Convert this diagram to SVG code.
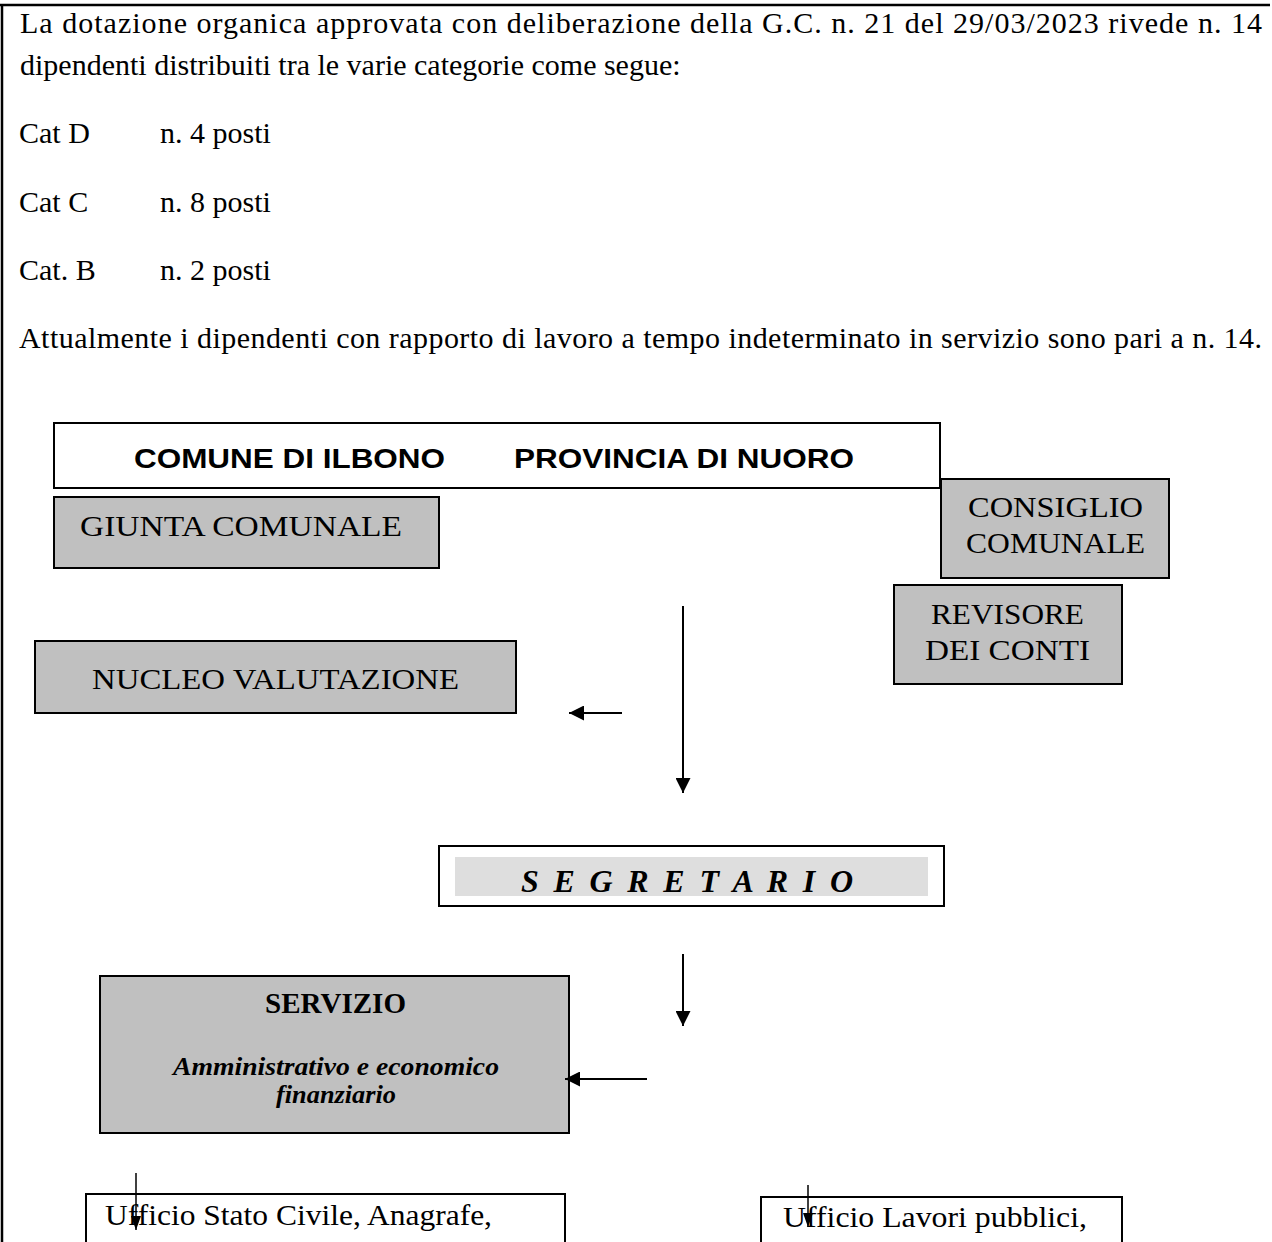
<svg xmlns="http://www.w3.org/2000/svg" width="1272" height="1242" viewBox="0 0 1272 1242">
<defs>
<style>
.t{font-family:"Liberation Serif",serif;font-size:30px;fill:#000}
.box{stroke:#000;stroke-width:2}
.gray{fill:#c0c0c0}
.white{fill:#fff}
.ln{stroke:#000;stroke-width:2;fill:none}
.sl{stroke:#000;stroke-width:1.5;fill:none}
.bi{font-family:"Liberation Serif",serif;font-weight:bold;font-style:italic;fill:#000}
</style>
<marker id="ahs" viewBox="0 0 10 10" refX="10" refY="5" markerWidth="15" markerHeight="15" markerUnits="userSpaceOnUse" orient="auto">
<path d="M0,0 L10,5 L0,10 z" fill="#000"/>
</marker>
<marker id="ah" viewBox="0 0 14 10" refX="14" refY="5" markerWidth="14" markerHeight="10" markerUnits="userSpaceOnUse" orient="auto">
<path d="M0,0 L14,5 L0,10 z" fill="#000"/>
</marker>
</defs>
<rect width="1272" height="1242" fill="#fff"/>
<g id="page-border">
<line x1="0" y1="5" x2="1270" y2="5" stroke="#000" stroke-width="2.5"/>
<line x1="2" y1="4" x2="2" y2="1242" stroke="#000" stroke-width="2.5"/>
</g>
<g id="intro">
<text class="t" x="20" y="33" textLength="1242" lengthAdjust="spacing">La dotazione organica approvata con deliberazione della G.C. n. 21 del 29/03/2023 rivede n. 14</text>
<text class="t" x="20" y="75">dipendenti distribuiti tra le varie categorie come segue:</text>
<text class="t" x="19" y="143">Cat D</text><text class="t" x="160" y="143">n. 4 posti</text>
<text class="t" x="19" y="212">Cat C</text><text class="t" x="160" y="212">n. 8 posti</text>
<text class="t" x="19" y="280">Cat. B</text><text class="t" x="160" y="280">n. 2 posti</text>
<text class="t" x="19" y="348" textLength="1243" lengthAdjust="spacing">Attualmente i dipendenti con rapporto di lavoro a tempo indeterminato in servizio sono pari a n. 14.</text>
</g>
<g id="header">
<rect class="box white" x="54" y="423" width="886" height="65"/>
<text y="468" style="font-family:'Liberation Sans',sans-serif;font-weight:bold;font-size:27px"><tspan x="134" textLength="311" lengthAdjust="spacingAndGlyphs">COMUNE DI ILBONO</tspan><tspan x="514" textLength="340" lengthAdjust="spacingAndGlyphs">PROVINCIA DI NUORO</tspan></text>
</g>
<g id="giunta">
<rect class="box gray" x="54" y="497" width="385" height="71"/>
<text class="t" x="80" y="536" font-size="28" textLength="322" lengthAdjust="spacingAndGlyphs">GIUNTA COMUNALE</text>
</g>
<g id="consiglio">
<rect class="box gray" x="941" y="479" width="228" height="99"/>
<text class="t" x="968" y="517" textLength="175" lengthAdjust="spacingAndGlyphs">CONSIGLIO</text>
<text class="t" x="966" y="553" textLength="179" lengthAdjust="spacingAndGlyphs">COMUNALE</text>
</g>
<g id="revisore">
<rect class="box gray" x="894" y="585" width="228" height="99"/>
<text class="t" x="931" y="624" textLength="153" lengthAdjust="spacingAndGlyphs">REVISORE</text>
<text class="t" x="925" y="660" textLength="165" lengthAdjust="spacingAndGlyphs">DEI CONTI</text>
</g>
<g id="nucleo">
<rect class="box gray" x="35" y="641" width="481" height="72"/>
<text class="t" x="92" y="689" textLength="367" lengthAdjust="spacingAndGlyphs">NUCLEO VALUTAZIONE</text>
</g>
<g id="segretario">
<rect class="box white" x="439" y="846" width="505" height="60"/>
<rect x="455" y="857" width="473" height="39" fill="#dedede"/>
<text class="bi" x="521" y="892" font-size="32" textLength="332" lengthAdjust="spacing">S E G R E T A R I O</text>
</g>
<g id="servizio">
<rect class="box gray" x="100" y="976" width="469" height="157"/>
<text class="t" x="265" y="1013" font-size="29" font-weight="bold" textLength="141" lengthAdjust="spacingAndGlyphs">SERVIZIO</text>
<text class="bi" x="173" y="1075" font-size="25" textLength="326" lengthAdjust="spacingAndGlyphs">Amministrativo e economico</text>
<text class="bi" x="276" y="1103" font-size="25" textLength="120" lengthAdjust="spacingAndGlyphs">finanziario</text>
</g>
<g id="ufficio-anagrafe">
<rect class="box white" x="86" y="1194" width="479" height="60"/>
<text class="t" x="105" y="1225" textLength="387" lengthAdjust="spacingAndGlyphs">Ufficio Stato Civile, Anagrafe,</text>
</g>
<g id="ufficio-lavori">
<rect class="box white" x="761" y="1197" width="361" height="60"/>
<text class="t" x="783" y="1227" textLength="304" lengthAdjust="spacingAndGlyphs">Ufficio Lavori pubblici,</text>
</g>
<g id="connectors">
<line class="ln" x1="622" y1="713" x2="569" y2="713" marker-end="url(#ahs)"/>
<line class="ln" x1="683" y1="606" x2="683" y2="793" marker-end="url(#ahs)"/>
<line class="ln" x1="683" y1="954" x2="683" y2="1026" marker-end="url(#ahs)"/>
<line class="ln" x1="647" y1="1079" x2="565" y2="1079" marker-end="url(#ahs)"/>
<line class="sl" x1="136" y1="1173" x2="136" y2="1230" marker-end="url(#ah)"/>
<line class="sl" x1="808" y1="1185" x2="808" y2="1227" marker-end="url(#ah)"/>
</g>
</svg>
